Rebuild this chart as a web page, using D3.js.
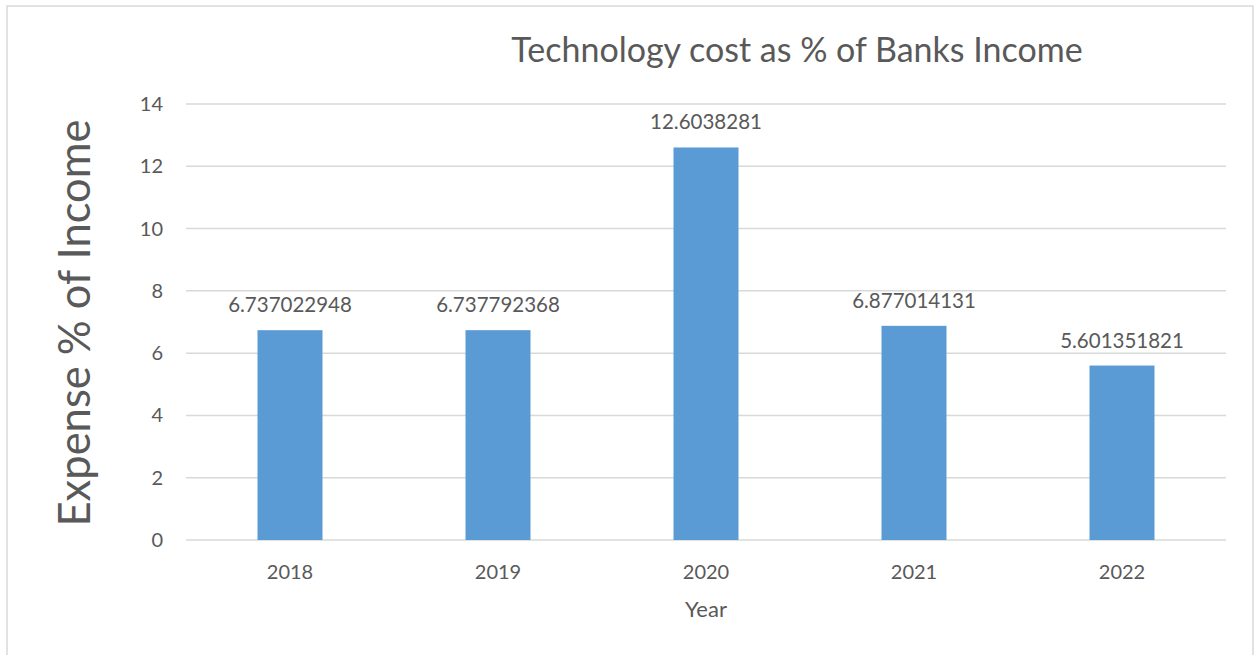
<!DOCTYPE html>
<html>
<head>
<meta charset="utf-8">
<script src="https://cdn.jsdelivr.net/npm/d3@7"></script>
<style>
  body { margin: 0; background: #fff; }
  text { font-family: Lato, "Open Sans", sans-serif; fill: #595959; }
</style>
</head>
<body>
<div id="vis"></div>
<script>
// data
const years = ["2018", "2019", "2020", "2021", "2022"];
const values = [6.737022948, 6.737792368, 12.6038281, 6.877014131, 5.601351821];
const valueLabels = ["6.737022948", "6.737792368", "12.6038281", "6.877014131", "5.601351821"];
const yTicks = [0, 2, 4, 6, 8, 10, 12, 14];

const width = 1255, height = 655;
const plot = {left: 186, right: 1226, top: 104, bottom: 540};

const svg = d3.select("#vis").append("svg")
    .attr("width", width)
    .attr("height", height);

// chart border
svg.append("rect")
    .attr("x", 7).attr("y", 6)
    .attr("width", 1246).attr("height", 660)
    .attr("fill", "none")
    .attr("stroke", "#d9d9d9")
    .attr("stroke-width", 1.5);

const x = d3.scaleBand().domain(years).range([plot.left, plot.right]).paddingInner(0.6875).paddingOuter(0.34375);
const y = d3.scaleLinear().domain([0, 14]).range([plot.bottom, plot.top]);

// gridlines
svg.append("g")
    .selectAll("line")
    .data(yTicks)
    .join("line")
    .attr("x1", plot.left).attr("x2", plot.right)
    .attr("y1", d => y(d)).attr("y2", d => y(d))
    .attr("stroke", "#d9d9d9")
    .attr("stroke-width", 1.5);

// y tick labels
svg.append("g")
    .selectAll("text")
    .data(yTicks)
    .join("text")
    .attr("x", 163)
    .attr("y", d => y(d))
    .attr("dy", "0.35em")
    .attr("text-anchor", "end")
    .attr("font-size", 20)
    .text(d => d);

// bars
svg.append("g")
    .selectAll("rect")
    .data(values)
    .join("rect")
    .attr("x", (d, i) => x(years[i]))
    .attr("y", d => y(d))
    .attr("width", x.bandwidth())
    .attr("height", d => y(0) - y(d))
    .attr("fill", "#5b9bd5");

// value labels
svg.append("g")
    .selectAll("text")
    .data(values)
    .join("text")
    .attr("x", (d, i) => x(years[i]) + x.bandwidth() / 2)
    .attr("y", d => y(d) - 18)
    .attr("text-anchor", "middle")
    .attr("font-size", 20.5)
    .text((d, i) => valueLabels[i]);

// x tick labels
svg.append("g")
    .selectAll("text")
    .data(years)
    .join("text")
    .attr("x", d => x(d) + x.bandwidth() / 2)
    .attr("y", 579)
    .attr("text-anchor", "middle")
    .attr("font-size", 20)
    .text(d => d);

// titles
svg.append("text")
    .attr("x", 797).attr("y", 62)
    .attr("text-anchor", "middle")
    .attr("font-size", 34)
    .text("Technology cost as % of Banks Income");

svg.append("text")
    .attr("x", 706).attr("y", 617)
    .attr("text-anchor", "middle")
    .attr("font-size", 22)
    .text("Year");

svg.append("text")
    .attr("transform", "translate(90,323) rotate(-90)")
    .attr("text-anchor", "middle")
    .attr("font-size", 43.5)
    .text("Expense % of Income");
</script>
</body>
</html>
